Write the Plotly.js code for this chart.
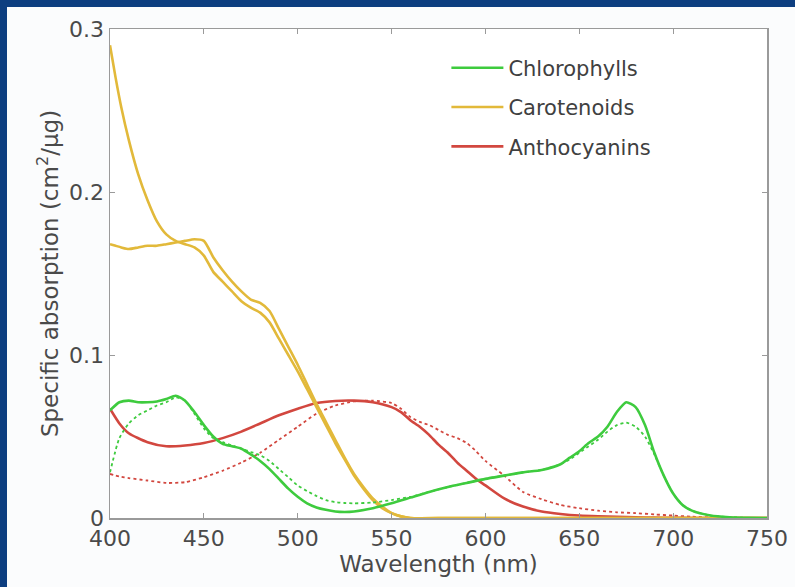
<!DOCTYPE html>
<html>
<head>
<meta charset="utf-8">
<script src="https://cdn.plot.ly/plotly-3.0.1.min.js"></script>
<style>
  html, body { margin: 0; padding: 0; background: #fbfcfd; overflow: hidden; width: 795px; height: 587px; }
  #topbar { position: absolute; left: 0; top: 0; width: 795px; height: 7px; background: #0d3e80; }
  #leftbar { position: absolute; left: 0; top: 0; width: 7px; height: 587px; background: #0d3e80; }
  #chart { position: absolute; left: 7px; top: 7px; width: 788px; height: 580px; }
</style>
</head>
<body>
<div id="chart"></div>
<div id="topbar"></div>
<div id="leftbar"></div>
<script>
// ---- Data ----
const seriesNames = ["Chlorophylls", "Carotenoids", "Anthocyanins"];

const chlWavelength = [400,405,410,415,420,425,430,435,440,445,450,455,460,465,470,475,480,485,490,495,500,505,510,515,520,525,530,
  540,550,560,570,580,590,600,610,620,630,640,
  645,650,655,660,665,670,675,680,685,690,695,700,705,710,
  720,730,740,750];
const chlSolid = [0.066,0.071,0.072,0.071,0.071,0.0715,0.073,0.075,0.072,0.065,0.057,0.050,0.0455,0.044,0.0425,0.039,0.035,0.030,0.024,0.018,0.013,0.009,0.0065,0.005,0.004,0.0037,0.004,
  0.006,0.009,0.0125,0.016,0.019,0.0215,0.024,0.026,0.028,0.0295,0.033,
  0.037,0.041,0.046,0.050,0.056,0.065,0.071,0.068,0.057,0.040,0.026,0.015,0.008,0.0045,
  0.0015,0.0005,0.0001,0];
const chlDotted = [0.028,0.049,0.058,0.063,0.066,0.069,0.071,0.074,0.072,0.064,0.055,0.049,0.0465,0.0445,0.0425,0.0405,0.0385,0.035,0.030,0.025,0.020,0.0165,0.0135,0.011,0.0097,0.0092,0.009,
  0.0095,0.011,0.013,0.016,0.019,0.0215,0.024,0.026,0.028,0.0295,0.033,
  0.036,0.040,0.044,0.048,0.053,0.057,0.0585,0.056,0.050,0.039,0.026,0.015,0.008,0.0045,
  0.0015,0.0005,0.0001,0];

const carWavelength = [400,403,406,410,415,420,425,430,435,440,445,450,455,460,465,470,475,480,485,490,495,500,505,510,515,520,525,530,535,540,545,550,555,560,580,600,650,700,750];
const carSteep = [0.290,0.270,0.252,0.232,0.211,0.195,0.182,0.174,0.170,0.168,0.166,0.161,0.151,0.145,0.139,0.133,0.129,0.126,0.120,0.110,0.100,0.090,0.079,0.068,0.057,0.046,0.036,0.026,0.018,0.011,0.006,0.003,0.001,0,0,0,0,0,0];
const carPlateau = [0.168,0.167,0.166,0.165,0.166,0.167,0.167,0.168,0.169,0.170,0.171,0.170,0.160,0.152,0.145,0.139,0.134,0.132,0.127,0.116,0.105,0.094,0.082,0.070,0.059,0.048,0.037,0.027,0.019,0.012,0.007,0.003,0.001,0,0,0,0,0,0];

const antWavelength = [400,405,410,420,430,440,450,460,470,480,490,500,510,520,530,540,550,555,560,565,570,575,580,585,590,595,600,610,620,630,640,650,660,670,680,690,700,710,720,735,750];
const antSolid = [0.067,0.058,0.052,0.0465,0.044,0.0445,0.046,0.049,0.053,0.058,0.063,0.067,0.0705,0.0718,0.072,0.071,0.068,0.065,0.060,0.056,0.051,0.045,0.040,0.034,0.029,0.024,0.020,0.012,0.007,0.004,0.0025,0.0015,0.001,0.0007,0.0004,0.0002,0.0001,0,0,0,0];
const antDotted = [0.027,0.0255,0.0245,0.023,0.0215,0.022,0.025,0.029,0.034,0.040,0.048,0.056,0.064,0.069,0.0715,0.072,0.0705,0.067,0.062,0.059,0.057,0.054,0.051,0.049,0.046,0.041,0.035,0.026,0.016,0.0115,0.008,0.006,0.0045,0.0035,0.003,0.0022,0.0015,0.0008,0.0004,0.0001,0];

const xTicks = [400,450,500,550,600,650,700,750];
const yTicks = [0,0.1,0.2,0.3];
const yTickText = ["0","0.1","0.2","0.3"];

// ---- Styles ----
const green = "#3ecb3e", yellow = "#e2b93a", red = "#d2473f";
const font = "DejaVu Sans, Noto Sans, sans-serif";

function solid(x, y, name, color, group, show) {
  return {x: x, y: y, name: name, legendgroup: group, showlegend: show, type: "scatter", mode: "lines",
    line: {color: color, width: 2.6, shape: "spline", smoothing: 0.6}, hoverinfo: "skip"};
}
function dotted(x, y, name, color, group) {
  return {x: x, y: y, name: name, legendgroup: group, showlegend: false, type: "scatter", mode: "lines",
    line: {color: color, width: 1.8, dash: "dot", shape: "spline", smoothing: 0.6}, hoverinfo: "skip"};
}

const traces = [
  dotted(antWavelength, antDotted, seriesNames[2], red, "a"),
  solid(antWavelength, antSolid, seriesNames[2], red, "a", false),
  solid(carWavelength, carSteep, seriesNames[1], yellow, "b", false),
  solid(carWavelength, carPlateau, seriesNames[1], yellow, "b", false),
  dotted(chlWavelength, chlDotted, seriesNames[0], green, "c"),
  solid(chlWavelength, chlSolid, seriesNames[0], green, "c", false),
  // legend entries
  {x:[null], y:[null], name: seriesNames[0], legendgroup: "g1", type:"scatter", mode:"lines", line:{color: green, width: 2.6}},
  {x:[null], y:[null], name: seriesNames[1], legendgroup: "g2", type:"scatter", mode:"lines", line:{color: yellow, width: 2.6}},
  {x:[null], y:[null], name: seriesNames[2], legendgroup: "g3", type:"scatter", mode:"lines", line:{color: red, width: 2.6}}
];

const axisCommon = {
  showline: true, linecolor: "#9a9a9a", linewidth: 1.5, mirror: "ticks",
  ticks: "inside", ticklen: 5, tickcolor: "#9a9a9a", tickwidth: 1,
  showgrid: false, zeroline: false,
  tickfont: {family: font, size: 22, color: "#4a4a4a"}
};

const layout = {
  width: 788, height: 580,
  margin: {l: 103, r: 28, t: 22, b: 69},
  paper_bgcolor: "#fbfcfd", plot_bgcolor: "#ffffff",
  showlegend: true,
  legend: {x: 0.512, y: 0.962, xanchor: "left", yanchor: "top", bgcolor: "rgba(0,0,0,0)",
    font: {family: font, size: 21, color: "#404040"}, traceorder: "grouped", tracegroupgap: 9, itemwidth: 52},
  xaxis: Object.assign({}, axisCommon, {range: [400, 750], tickvals: xTicks,
    title: {text: "Wavelength (nm)", font: {family: font, size: 23, color: "#4a4a4a"}, standoff: 0}}),
  yaxis: Object.assign({}, axisCommon, {range: [0, 0.3], tickvals: yTicks, ticktext: yTickText,
    title: {text: "Specific absorption (cm<sup>2</sup>/μg)", font: {family: font, size: 23, color: "#4a4a4a"}, standoff: 4}})
};

Plotly.newPlot("chart", traces, layout, {displayModeBar: false, staticPlot: true});
</script>
</body>
</html>
